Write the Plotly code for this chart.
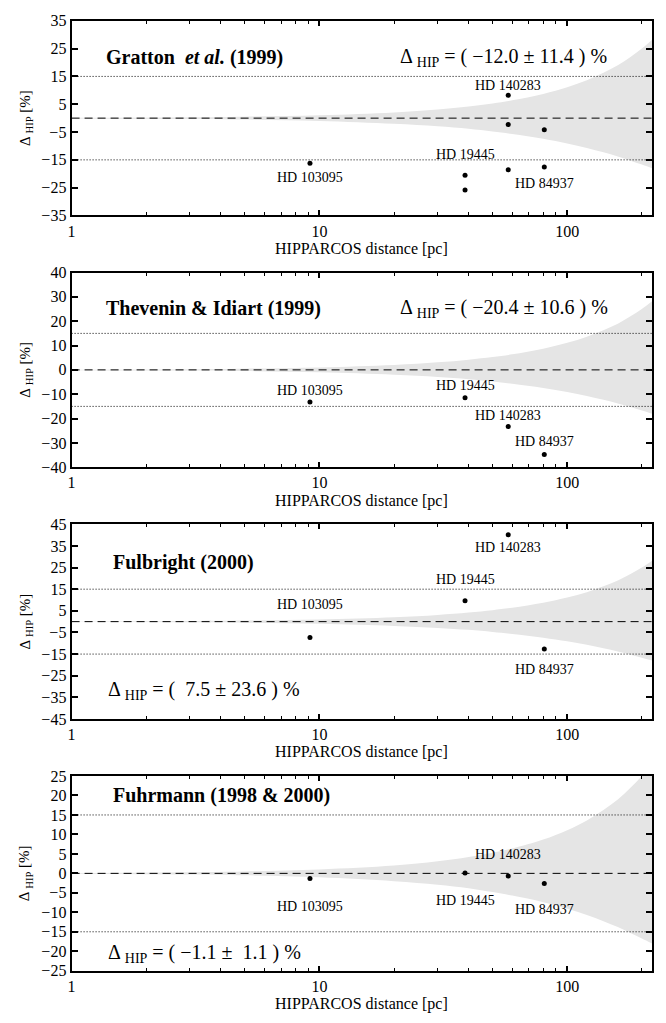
import numpy as np
import plotly.graph_objects as go

# ---------------- data ----------------
star_distance_pc = {"HD 103095": 9.16, "HD 19445": 38.7, "HD 140283": 57.8, "HD 84937": 80.8}

gratton_stars = ["HD 103095", "HD 19445", "HD 19445", "HD 140283", "HD 140283", "HD 140283", "HD 84937", "HD 84937"]
gratton_delta = [-16.2, -20.5, -25.8, 8.2, -2.3, -18.6, -4.2, -17.6]

thevenin_stars = ["HD 103095", "HD 19445", "HD 140283", "HD 84937"]
thevenin_delta = [-13.2, -11.5, -23.3, -34.8]

fulbright_stars = ["HD 103095", "HD 19445", "HD 140283", "HD 84937"]
fulbright_delta = [-7.3, 9.7, 40.2, -12.6]

fuhrmann_stars = ["HD 103095", "HD 19445", "HD 140283", "HD 84937"]
fuhrmann_delta = [-1.3, 0.1, -0.7, -2.6]

# grey band (parallax uncertainty envelope)
band_distance_pc = [1, 3, 5, 10, 20, 30, 40, 50, 60, 80, 100, 120, 140, 160, 180, 200, 220]
band_upper = [0.1, 0.3, 0.5, 1.0, 2.0, 3.1, 4.2, 5.3, 6.4, 8.7, 11.1, 13.6, 16.3, 19.0, 22.0, 25.0, 28.2]
band_lower = [-0.1, -0.3, -0.5, -1.0, -2.0, -2.9, -3.8, -4.8, -5.7, -7.4, -9.1, -10.7, -12.3, -13.8, -15.3, -16.7, -18.0]

reference_levels = [15, -15]
zero_level = 0

panel_titles = ["<b>Gratton\u00a0\u00a0<i>et al.</i> (1999)</b>",
                "<b>Thevenin &amp; Idiart (1999)</b>",
                "<b>Fulbright (2000)</b>",
                "<b>Fuhrmann (1998 &amp; 2000)</b>"]
panel_summary = ["\u0394 <sub>HIP</sub> = ( \u221212.0 \u00b1 11.4 ) %",
                 "\u0394 <sub>HIP</sub> = ( \u221220.4 \u00b1 10.6 ) %",
                 "\u0394 <sub>HIP</sub> = (\u00a0\u00a07.5 \u00b1 23.6 ) %",
                 "\u0394 <sub>HIP</sub> = ( \u22121.1 \u00b1\u00a0\u00a01.1 ) %"]

y_tick_values = [list(range(-35, 36, 10)), list(range(-40, 41, 10)),
                 list(range(-45, 46, 10)), list(range(-25, 26, 5))]
y_limits = [35, 40, 45, 25]
x_tick_values = [1, 10, 100]
x_tick_labels = ["1", "10", "100"]
x_minor_values = [2, 3, 4, 5, 6, 7, 8, 9, 20, 30, 40, 50, 60, 70, 80, 90, 200]
x_limits = [1, 220]
x_label = "HIPPARCOS distance [pc]"
y_label = "\u0394 <sub>HIP</sub> [%]"

panels = [(gratton_stars, gratton_delta), (thevenin_stars, thevenin_delta),
          (fulbright_stars, fulbright_delta), (fuhrmann_stars, fuhrmann_delta)]

# label placement: (index of point the label belongs to, vertical shift in px)
label_anchor = [
    [(0, -14), (1, 21), (3, 10), (7, -16)],
    [(0, 12), (1, 12), (2, 11), (3, 13)],
    [(0, 33), (1, 21), (2, -13), (3, -21)],
    [(0, -28), (1, -28), (2, 22), (3, -26)],
]
title_pos = [(0.0565, 0.813), (0.0565, 0.813), (0.068, 0.803), (0.068, 0.899)]
summary_pos = [(0.562, 0.813), (0.562, 0.813), (0.060, 0.146), (0.060, 0.091)]

# ---------------- figure ----------------
W, H = 666, 1023
box_left, box_right = 68, 652
box_tops = [13, 269, 525, 781]
box_h = 198
FONT = "Liberation Serif, Times New Roman, serif"

fig = go.Figure()
layout = dict(width=W, height=H, margin=dict(l=0, r=0, t=0, b=0),
              paper_bgcolor="white", plot_bgcolor="white", showlegend=False,
              font=dict(family=FONT, color="black"))
annotations = []
shapes = []

for k, (names, delta) in enumerate(panels):
    xa = "x" if k == 0 else f"x{k+1}"
    ya = "y" if k == 0 else f"y{k+1}"
    xkey = "xaxis" if k == 0 else f"xaxis{k+1}"
    ykey = "yaxis" if k == 0 else f"yaxis{k+1}"
    top = box_tops[k]
    dom_y = [1 - (top + box_h) / H, 1 - top / H]

    layout[xkey] = dict(type="log", domain=[box_left / W, box_right / W], anchor=ya,
                        range=[np.log10(x_limits[0]), np.log10(x_limits[1])],
                        showline=True, linecolor="black", linewidth=2, mirror="ticks",
                        ticks="inside", ticklen=5, tickwidth=1.5, tickcolor="black",
                        tickvals=x_tick_values, ticktext=x_tick_labels,
                        tickfont=dict(size=16, family=FONT, color="black"),
                        minor=dict(ticks="inside", ticklen=3, tickwidth=1, tickcolor="black",
                                   tickvals=x_minor_values, showgrid=False),
                        showgrid=False, zeroline=False, fixedrange=True)
    layout[ykey] = dict(domain=dom_y, anchor=xa, range=[-y_limits[k], y_limits[k]],
                        showline=True, linecolor="black", linewidth=2, mirror="ticks",
                        ticks="inside", ticklen=6, tickwidth=2, tickcolor="black",
                        tickvals=y_tick_values[k],
                        tickfont=dict(size=16, family=FONT, color="black"),
                        showgrid=False, zeroline=False, fixedrange=True)

    # grey band
    fig.add_trace(go.Scatter(x=band_distance_pc, y=band_lower, mode="lines",
                             line=dict(width=0, shape="spline", color="#e5e5e5"),
                             xaxis=xa, yaxis=ya, hoverinfo="skip"))
    fig.add_trace(go.Scatter(x=band_distance_pc, y=band_upper, mode="lines",
                             line=dict(width=0, shape="spline", color="#e5e5e5"),
                             fill="tonexty", fillcolor="#e5e5e5",
                             xaxis=xa, yaxis=ya, hoverinfo="skip"))
    # reference lines
    for lev in reference_levels:
        shapes.append(dict(type="line", xref=f"{xa} domain", yref=ya, x0=0, x1=1, y0=lev, y1=lev,
                           line=dict(color="black", width=1, dash="1px,2px"), layer="above"))
    shapes.append(dict(type="line", xref=f"{xa} domain", yref=ya, x0=0, x1=1, y0=zero_level, y1=zero_level,
                       line=dict(color="black", width=1, dash="8px,5px"), layer="above"))

    xs = [star_distance_pc[n] for n in names]
    fig.add_trace(go.Scatter(x=xs, y=delta, mode="markers",
                             marker=dict(color="black", size=5),
                             xaxis=xa, yaxis=ya, cliponaxis=False))

    for idx, shift in label_anchor[k]:
        annotations.append(dict(x=np.log10(xs[idx]), y=delta[idx], xref=xa, yref=ya,
                                text=names[idx], showarrow=False, yshift=shift,
                                font=dict(size=14, family=FONT, color="black"),
                                xanchor="center", yanchor="middle"))

    tx, ty = title_pos[k]
    annotations.append(dict(x=tx, y=ty, xref=f"{xa} domain", yref=f"{ya} domain",
                            text=panel_titles[k], showarrow=False, xanchor="left", yanchor="middle",
                            font=dict(size=20, family=FONT, color="black")))
    sx, sy = summary_pos[k]
    annotations.append(dict(x=sx, y=sy, xref=f"{xa} domain", yref=f"{ya} domain",
                            text=panel_summary[k], showarrow=False, xanchor="left", yanchor="middle",
                            font=dict(size=20, family=FONT, color="black")))
    # axis labels
    annotations.append(dict(x=(box_left + box_right) / 2 / W, y=1 - (top + box_h + 34) / H,
                            xref="paper", yref="paper", text=x_label, showarrow=False,
                            xanchor="center", yanchor="middle",
                            font=dict(size=16, family=FONT, color="black")))
    annotations.append(dict(x=22 / W, y=1 - (top + box_h / 2) / H,
                            xref="paper", yref="paper", text=y_label, showarrow=False,
                            textangle=-90, xanchor="center", yanchor="middle",
                            font=dict(size=15, family=FONT, color="black")))

layout["annotations"] = annotations
layout["shapes"] = shapes
fig.update_layout(**layout)

fig.write_html("out.html", config={"displayModeBar": False},
               post_script="document.body.style.margin='0';")
